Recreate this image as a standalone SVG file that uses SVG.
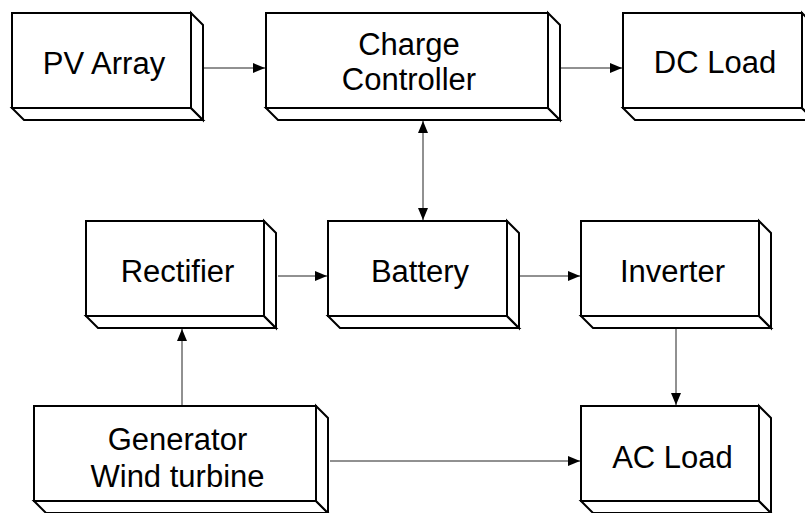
<svg xmlns="http://www.w3.org/2000/svg" width="805" height="513" viewBox="0 0 805 513">
<style>
.f{fill:#fff;stroke:#000;stroke-width:2;stroke-linejoin:miter}
.t{font-family:"Liberation Sans",Arial,sans-serif;font-size:31px;fill:#000;text-anchor:middle}
.c{fill:none;stroke:#222;stroke-width:1}
</style>
<defs>
<marker id="ah" viewBox="0 0 12 10" refX="12" refY="5" markerWidth="12" markerHeight="10" markerUnits="userSpaceOnUse" orient="auto-start-reverse">
<path d="M0,0 L12,5 L0,10 Z" fill="#000"/>
</marker>
</defs>
<rect width="805" height="513" fill="#fff"/>
<g id="pv-array">
<path class="f" d="M12,108 L24,120 L203,120 L191,108 Z"/>
<path class="f" d="M191,13 L203,25 L203,120 L191,108 Z"/>
<rect class="f" x="12" y="13" width="179" height="95"/>
<text class="t" x="104" y="74">PV Array</text>
</g>
<g id="charge-controller">
<path class="f" d="M266,108 L278,120 L560,120 L548,108 Z"/>
<path class="f" d="M548,13 L560,25 L560,120 L548,108 Z"/>
<rect class="f" x="266" y="13" width="282" height="95"/>
<text class="t" x="409" y="55">Charge</text>
<text class="t" x="409" y="90">Controller</text>
</g>
<g id="dc-load">
<path class="f" d="M623,108 L635,120 L814,120 L802,108 Z"/>
<path class="f" d="M802,13 L814,25 L814,120 L802,108 Z"/>
<rect class="f" x="623" y="13" width="179" height="95"/>
<text class="t" x="715" y="73">DC Load</text>
</g>
<g id="rectifier">
<path class="f" d="M86,316 L98,328 L276,328 L264,316 Z"/>
<path class="f" d="M264,221 L276,233 L276,328 L264,316 Z"/>
<rect class="f" x="86" y="221" width="178" height="95"/>
<text class="t" x="177.5" y="282">Rectifier</text>
</g>
<g id="battery">
<path class="f" d="M328,316 L340,328 L519,328 L507,316 Z"/>
<path class="f" d="M507,221 L519,233 L519,328 L507,316 Z"/>
<rect class="f" x="328" y="221" width="179" height="95"/>
<text class="t" x="420" y="282">Battery</text>
</g>
<g id="inverter">
<path class="f" d="M581,316 L593,328 L771,328 L759,316 Z"/>
<path class="f" d="M759,221 L771,233 L771,328 L759,316 Z"/>
<rect class="f" x="581" y="221" width="178" height="95"/>
<text class="t" x="672.5" y="282">Inverter</text>
</g>
<g id="generator">
<path class="f" d="M34,501 L46,513 L328,513 L316,501 Z"/>
<path class="f" d="M316,406 L328,418 L328,513 L316,501 Z"/>
<rect class="f" x="34" y="406" width="282" height="95"/>
<text class="t" x="177.5" y="450">Generator</text>
<text class="t" x="177.5" y="487">Wind turbine</text>
</g>
<g id="ac-load">
<path class="f" d="M581,501 L593,513 L771,513 L759,501 Z"/>
<path class="f" d="M759,406 L771,418 L771,513 L759,501 Z"/>
<rect class="f" x="581" y="406" width="178" height="95"/>
<text class="t" x="672.5" y="468">AC Load</text>
</g>
<g id="connectors">
<line class="c" x1="204" y1="68" x2="265" y2="68" marker-end="url(#ah)"/>
<line class="c" x1="561" y1="68" x2="622" y2="68" marker-end="url(#ah)"/>
<line class="c" x1="423" y1="121" x2="423" y2="220" marker-start="url(#ah)" marker-end="url(#ah)"/>
<line class="c" x1="278" y1="276" x2="327" y2="276" marker-end="url(#ah)"/>
<line class="c" x1="520" y1="276" x2="580" y2="276" marker-end="url(#ah)"/>
<line class="c" x1="676" y1="329" x2="676" y2="405" marker-end="url(#ah)"/>
<line class="c" x1="182" y1="405" x2="182" y2="329" marker-end="url(#ah)"/>
<line class="c" x1="330" y1="461" x2="580" y2="461" marker-end="url(#ah)"/>
</g>
</svg>
